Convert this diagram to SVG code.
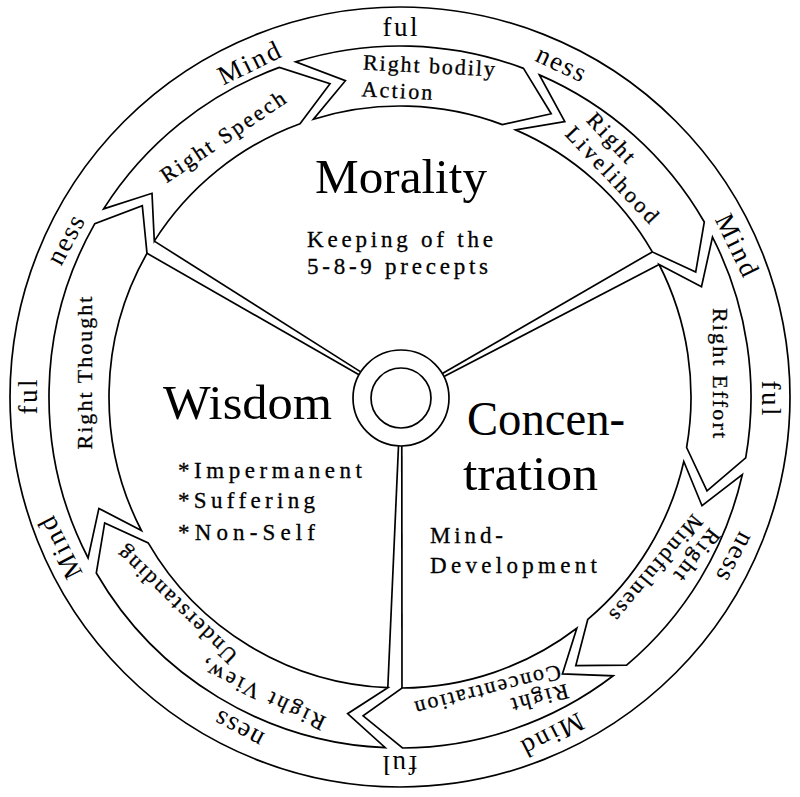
<svg xmlns="http://www.w3.org/2000/svg" width="800" height="797" viewBox="0 0 800 797">
<style>
 .ln{fill:none;stroke:#000;stroke-width:1.7}
 .arr{fill:#fff;stroke:#000;stroke-width:1.7;stroke-linejoin:miter}
 text{font-family:"Liberation Serif","Times New Roman",serif;fill:#000}
 .ring{font-size:27px;text-anchor:middle}
 .lab{font-size:22px;text-anchor:middle;stroke:#000;stroke-width:0.3}
 .big{font-size:48px}
 .sm{font-size:23px;stroke:#000;stroke-width:0.3}
</style>
<rect width="800" height="797" fill="#fff"/>
<g id="outer-ring">
 <circle class="ln" cx="400" cy="397" r="390"/>
 <text class="ring" transform="translate(249,63) rotate(-26)" y="9" textLength="66" lengthAdjust="spacing">Mind</text>
 <text class="ring" transform="translate(400,27) rotate(0)" y="9" textLength="35" lengthAdjust="spacing">ful</text>
 <text class="ring" transform="translate(560,66) rotate(25)" y="6" textLength="52" lengthAdjust="spacing">ness</text>
 <text class="ring" transform="translate(737,245) rotate(64)" y="9" textLength="66" lengthAdjust="spacing">Mind</text>
 <text class="ring" transform="translate(771,398) rotate(90)" y="9" textLength="35" lengthAdjust="spacing">ful</text>
 <text class="ring" transform="translate(733,556) rotate(118)" y="6" textLength="52" lengthAdjust="spacing">ness</text>
 <text class="ring" transform="translate(553,735) rotate(153)" y="9" textLength="66" lengthAdjust="spacing">Mind</text>
 <text class="ring" transform="translate(400,765) rotate(180)" y="9" textLength="35" lengthAdjust="spacing">ful</text>
 <text class="ring" transform="translate(240,727) rotate(208)" y="6" textLength="52" lengthAdjust="spacing">ness</text>
 <text class="ring" transform="translate(60,548) rotate(243)" y="9" textLength="66" lengthAdjust="spacing">Mind</text>
 <text class="ring" transform="translate(28,397) rotate(270)" y="9" textLength="35" lengthAdjust="spacing">ful</text>
 <text class="ring" transform="translate(68,241) rotate(298)" y="6" textLength="52" lengthAdjust="spacing">ness</text>
</g>
<g id="connectors">
 <line class="ln" x1="359.0" y1="374.7" x2="147.0" y2="253.3"/>
 <line class="ln" x1="360.7" y1="371.9" x2="154.3" y2="241.1"/>
 <line class="ln" x1="442.4" y1="373.6" x2="652.3" y2="251.9"/>
 <line class="ln" x1="444.0" y1="376.6" x2="659.1" y2="264.5"/>
 <line class="ln" x1="398.5" y1="446" x2="387.8" y2="687.7"/>
 <line class="ln" x1="401.8" y1="446" x2="402.0" y2="688.0"/>
</g>
<g id="hub">
 <circle class="ln" cx="401" cy="398" r="48"/>
 <circle class="ln" cx="401" cy="398" r="30"/>
</g>
<g id="right-speech">
 <path class="arr" d="M103.6,208.9 A351,351 0 0 1 279.4,67.4 L330.0,83.7 L300.0,123.7 A291,291 0 0 0 154.3,241.1 L152.0,193.3 Z"/>
 <text class="lab" transform="translate(223,137) rotate(-34)" y="7" textLength="146" lengthAdjust="spacing">Right Speech</text>
</g>
<g id="right-bodily-action">
 <path class="arr" d="M295.6,61.9 A351,351 0 0 1 523.5,68.4 L551.2,113.8 L502.4,124.6 A291,291 0 0 0 313.5,119.2 L345.4,80.7 Z"/>
 <text class="lab" transform="translate(429,66) rotate(3)" y="7" textLength="132" lengthAdjust="spacing">Right bodily</text>
 <text class="lab" transform="translate(397,91) rotate(3)" y="7" textLength="71" lengthAdjust="spacing">Action</text>
</g>
<g id="right-livelihood">
 <path class="arr" d="M539.4,74.9 A351,351 0 0 1 704.3,222.0 L695.7,272.1 L652.3,251.9 A291,291 0 0 0 515.6,129.9 L564.8,121.5 Z"/>
 <text class="lab" transform="translate(611,138) rotate(47)" y="7" textLength="60" lengthAdjust="spacing">Right</text>
 <text class="lab" transform="translate(612,175) rotate(46.5)" y="7" textLength="124" lengthAdjust="spacing">Livelihood</text>
</g>
<g id="right-effort">
 <path class="arr" d="M712.5,237.1 A351,351 0 0 1 745.7,457.9 L707.0,490.9 L686.6,447.5 A291,291 0 0 0 659.1,264.5 L701.5,286.7 Z"/>
 <text class="lab" transform="translate(720,373) rotate(90)" y="7" textLength="130" lengthAdjust="spacing">Right Effort</text>
</g>
<g id="right-mindfulness">
 <path class="arr" d="M742.3,474.7 A351,351 0 0 1 626.6,665.1 L575.8,665.6 L587.8,619.3 A291,291 0 0 0 683.8,461.5 L702.0,505.7 Z"/>
 <text class="lab" transform="translate(697,555) rotate(128)" y="7" font-size="20" textLength="60" lengthAdjust="spacing">Right</text>
 <text class="lab" transform="translate(656,568) rotate(130)" y="7" font-size="20" textLength="132" lengthAdjust="spacing">Mindfulness</text>
</g>
<g id="right-concentration">
 <path class="arr" d="M613.2,675.8 A351,351 0 0 1 402.5,748.0 L363.1,715.9 L402.0,688.0 A291,291 0 0 0 576.8,628.2 L562.4,673.9 Z"/>
 <text class="lab" transform="translate(540,698) rotate(165)" y="7" font-size="20" textLength="58" lengthAdjust="spacing">Right</text>
 <text class="lab" transform="translate(488,690) rotate(165.5)" y="7" font-size="20" textLength="150" lengthAdjust="spacing">Concentration</text>
</g>
<g id="right-view">
 <path class="arr" d="M385.3,747.7 A351,351 0 0 1 96.3,573.0 L104.7,522.9 L148.2,542.9 A291,291 0 0 0 387.8,687.7 L347.6,713.7 Z"/>
 <text class="lab" transform="translate(263,695) rotate(205.5)" y="7" font-size="20" textLength="135" lengthAdjust="spacing">Right View,</text>
 <text class="lab" transform="translate(177,605) rotate(224)" y="7" font-size="20" textLength="158" lengthAdjust="spacing">Understanding</text>
</g>
<g id="right-thought">
 <path class="arr" d="M88.1,558.0 A351,351 0 0 1 94.8,223.6 L142.3,205.6 L147.0,253.3 A291,291 0 0 0 141.4,530.5 L98.9,508.4 Z"/>
 <text class="lab" transform="translate(85,373) rotate(-90)" y="7" textLength="153" lengthAdjust="spacing">Right Thought</text>
</g>
<g id="morality">
 <text class="big" x="401" y="193" text-anchor="middle" textLength="172" lengthAdjust="spacingAndGlyphs">Morality</text>
 <text class="sm" x="307" y="247" textLength="186" lengthAdjust="spacing">Keeping of the</text>
 <text class="sm" x="307" y="274" textLength="181" lengthAdjust="spacing">5-8-9 precepts</text>
</g>
<g id="wisdom">
 <text class="big" x="163" y="419" textLength="169" lengthAdjust="spacingAndGlyphs">Wisdom</text>
 <text class="sm" x="178" y="478" font-size="26" textLength="184" lengthAdjust="spacing">*Impermanent</text>
 <text class="sm" x="178" y="508" font-size="26" textLength="137" lengthAdjust="spacing">*Suffering</text>
 <text class="sm" x="178" y="540" font-size="26" textLength="137" lengthAdjust="spacing">*Non-Self</text>
</g>
<g id="concentration">
 <text class="big" x="467" y="435" textLength="158" lengthAdjust="spacingAndGlyphs">Concen-</text>
 <text class="big" x="463" y="490" textLength="135" lengthAdjust="spacingAndGlyphs">tration</text>
 <text class="sm" x="430" y="543" font-size="25" textLength="73" lengthAdjust="spacing">Mind-</text>
 <text class="sm" x="430" y="573" font-size="25" textLength="167" lengthAdjust="spacing">Development</text>
</g>
</svg>
